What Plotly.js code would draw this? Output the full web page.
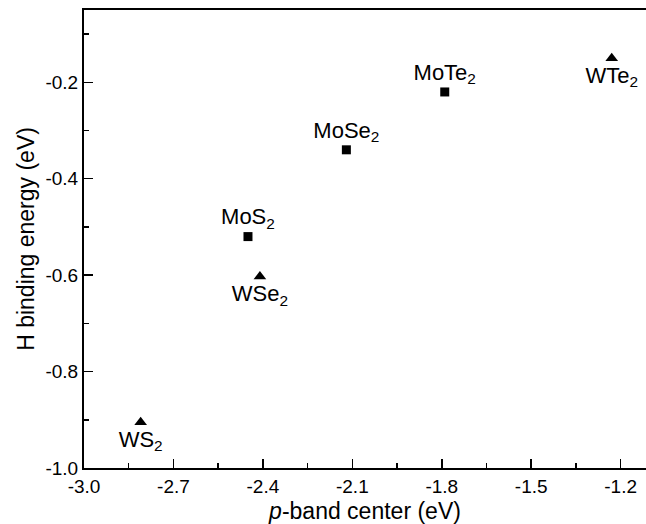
<!DOCTYPE html>
<html>
<head>
<meta charset="utf-8">
<script src="https://cdn.plot.ly/plotly-3.0.1.min.js"></script>
<style>html,body{margin:0;padding:0;background:#fff;}#chart{width:646px;height:524px;}</style>
</head>
<body>
<div id="chart"></div>
<script>
// Data
const moNames = ["MoS<sub>2</sub>", "MoSe<sub>2</sub>", "MoTe<sub>2</sub>"];
const moPband = [-2.45, -2.12, -1.79];
const moHbind = [-0.52, -0.34, -0.22];

const wNames = ["WS<sub>2</sub>", "WSe<sub>2</sub>", "WTe<sub>2</sub>"];
const wPband = [-2.81, -2.41, -1.23];
const wHbind = [-0.905, -0.603, -0.15];

const xTickVals = [-3.0, -2.7, -2.4, -2.1, -1.8, -1.5, -1.2];
const xTickText = ["-3.0", "-2.7", "-2.4", "-2.1", "-1.8", "-1.5", "-1.2"];
const yTickVals = [-1.0, -0.8, -0.6, -0.4, -0.2];
const yTickText = ["-1.0", "-0.8", "-0.6", "-0.4", "-0.2"];

const FONT = "Liberation Sans, Arial, sans-serif";

const traces = [
  {
    x: moPband, y: moHbind, text: moNames,
    type: "scatter", mode: "markers+text",
    textposition: "top center",
    textfont: {family: FONT, size: 22, color: "#000"},
    marker: {symbol: "square", size: 9, color: "#000"},
    cliponaxis: false, hoverinfo: "skip"
  },
  {
    x: wPband, y: wHbind, text: wNames,
    type: "scatter", mode: "markers+text",
    textposition: "bottom center",
    textfont: {family: FONT, size: 22, color: "#000"},
    marker: {symbol: "triangle-up", size: 11, color: "#000"},
    cliponaxis: false, hoverinfo: "skip"
  }
];

const layout = {
  width: 646, height: 524,
  margin: {l: 84, r: 0, t: 10, b: 56},
  paper_bgcolor: "#fff", plot_bgcolor: "#fff",
  showlegend: false,
  font: {family: FONT, color: "#000"},
  xaxis: {
    range: [-3.0, -1.115],
    tickvals: xTickVals, ticktext: xTickText,
    ticks: "inside", ticklen: 9, tickwidth: 1.5, tickcolor: "#000",
    minor: {ticks: "inside", ticklen: 5, tickwidth: 1.5, tickcolor: "#000", dtick: 0.15, tick0: -3.0, showgrid: false},
    showline: true, linewidth: 2, linecolor: "#000", mirror: true,
    showgrid: false, zeroline: false,
    tickfont: {family: FONT, size: 19, color: "#000"},
    title: {text: "<i>p</i>-band center (eV)", font: {family: FONT, size: 23, color: "#000"}, standoff: 8},
    automargin: false
  },
  yaxis: {
    range: [-1.0, -0.05],
    tickvals: yTickVals, ticktext: yTickText,
    ticks: "inside", ticklen: 9, tickwidth: 1.5, tickcolor: "#000",
    minor: {ticks: "inside", ticklen: 5, tickwidth: 1.5, tickcolor: "#000", dtick: 0.1, tick0: -1.0, showgrid: false},
    showline: true, linewidth: 2, linecolor: "#000", mirror: false,
    showgrid: false, zeroline: false,
    tickfont: {family: FONT, size: 19, color: "#000"},
    title: {text: "H binding energy (eV)", font: {family: FONT, size: 23, color: "#000"}, standoff: 4},
    automargin: false
  }
};

Plotly.newPlot("chart", traces, layout, {displayModeBar: false, staticPlot: true});
</script>
</body>
</html>
